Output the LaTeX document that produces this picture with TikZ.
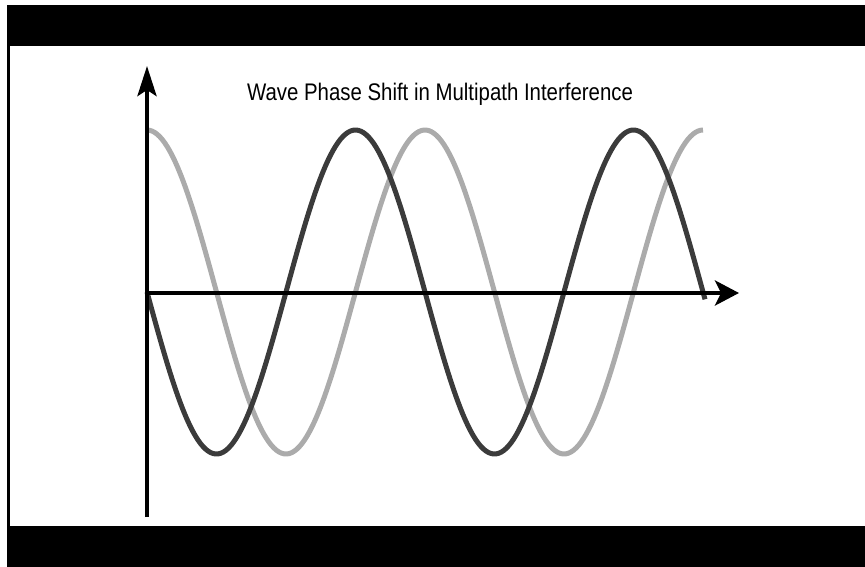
\documentclass[tikz,border=0pt]{standalone}
\usepackage{fontspec}
\setmainfont{Liberation Sans}
\usetikzlibrary{arrows.meta}

\begin{document}
\begin{tikzpicture}[x=1pt,y=-1pt,line cap=butt,line join=round]
\useasboundingbox (0,0) rectangle (865,567);
% frame
\fill[black] (7,5) rectangle (865,46);
\fill[black] (7,526) rectangle (865,567);
\fill[black] (7,5) rectangle (10,567);
\coordinate (O) at (147,293);
\coordinate (ytop) at (147,66);
\coordinate (ybot) at (147,517);
\coordinate (xend) at (739,293);
\node[font=\fontsize{24}{26}\selectfont,inner sep=0pt,anchor=base,xscale=0.85] (title) at (440,101) {Wave Phase Shift in Multipath Interference};
% waves
\draw[line width=5pt,color=black!33] plot[domain=0:556,samples=220] ({147+\x},{292-162*cos(\x/278*360)});
\draw[line width=5pt,color=black!77] plot[domain=0:558,samples=220] ({147+\x},{292+162*sin(\x/278*360)});
% axes
\draw[-{Stealth[length=30pt,width=19pt,inset=6pt]},line width=4.2pt] (ybot) -- (ytop);
\draw[-{Stealth[length=24pt,width=25pt,inset=6pt]},line width=4.2pt] (O) -- (xend);
\end{tikzpicture}
\end{document}
